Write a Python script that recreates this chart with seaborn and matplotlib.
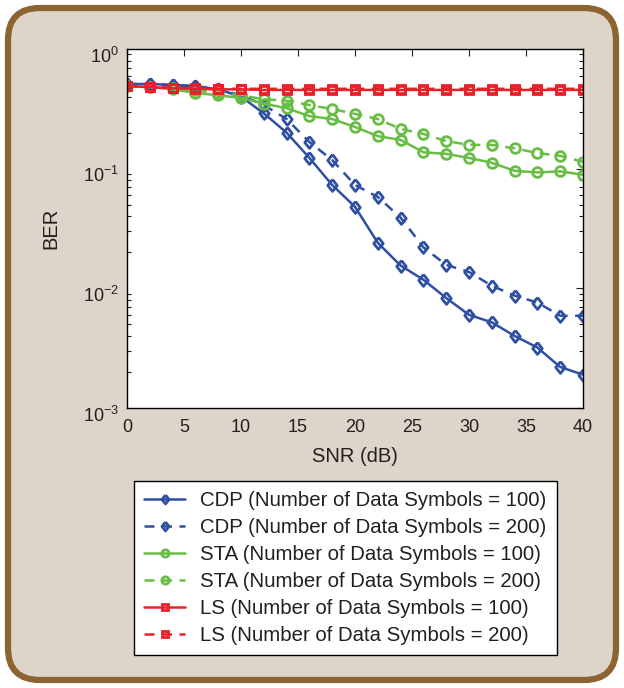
import numpy as np
import pandas as pd
import matplotlib
matplotlib.use('Agg')
import matplotlib.pyplot as plt
import seaborn as sns
from matplotlib.patches import FancyBboxPatch
from matplotlib.transforms import ScaledTranslation

# Data (BER vs SNR)
snr = [0, 2, 4, 6, 8, 10, 12, 14, 16, 18, 20, 22, 24, 26, 28, 30, 32, 34, 36, 38, 40]

cdp_100 = [0.51, 0.51, 0.50, 0.49, 0.46, 0.40, 0.29, 0.20, 0.123, 0.073, 0.048, 0.024, 0.0155,
           0.0118, 0.0083, 0.0060, 0.0052, 0.0040, 0.0032, 0.0022, 0.0019]
cdp_200 = [0.51, 0.51, 0.50, 0.49, 0.46, 0.41, 0.34, 0.26, 0.167, 0.118, 0.073, 0.058, 0.039,
           0.022, 0.0157, 0.0137, 0.0105, 0.0087, 0.0076, 0.0059, 0.0059]
sta_100 = [0.49, 0.48, 0.46, 0.43, 0.41, 0.39, 0.35, 0.32, 0.275, 0.26, 0.223, 0.187, 0.174,
           0.137, 0.133, 0.123, 0.112, 0.096, 0.093, 0.095, 0.089]
sta_200 = [0.49, 0.48, 0.47, 0.45, 0.43, 0.41, 0.38, 0.37, 0.34, 0.315, 0.287, 0.26, 0.215,
           0.195, 0.17, 0.158, 0.158, 0.148, 0.135, 0.128, 0.114]
ls_100 = [0.49, 0.48, 0.47, 0.465, 0.46, 0.46, 0.455, 0.455, 0.455, 0.455, 0.455, 0.455, 0.455,
          0.455, 0.455, 0.455, 0.455, 0.455, 0.455, 0.455, 0.455]
ls_200 = [0.49, 0.485, 0.475, 0.47, 0.465, 0.465, 0.465, 0.465, 0.465, 0.465, 0.465, 0.465, 0.465,
          0.465, 0.465, 0.465, 0.465, 0.465, 0.465, 0.465, 0.465]

labels = ['CDP (Number of Data Symbols = 100)', 'CDP (Number of Data Symbols = 200)',
          'STA (Number of Data Symbols = 100)', 'STA (Number of Data Symbols = 200)',
          'LS (Number of Data Symbols = 100)', 'LS (Number of Data Symbols = 200)']

sns.set_style('white')
plt.rcParams['font.family'] = ['Liberation Sans', 'DejaVu Sans']
plt.rcParams['mathtext.fontset'] = 'custom'
plt.rcParams['mathtext.rm'] = 'Liberation Sans'
plt.rcParams['axes.unicode_minus'] = True
ink = '#231f20'
plt.rcParams.update({'text.color': ink, 'axes.labelcolor': ink,
                     'xtick.color': ink, 'ytick.color': ink})

blue = '#2f4fa2'
green = '#68bd45'
red = '#e8202a'

diamond = [(0, 1), (0.8, 0), (0, -1), (-0.8, 0), (0, 1)]

fig = plt.figure(figsize=(6.24, 6.88), dpi=100)
fig.patch.set_facecolor('white')

# rounded beige panel with brown border
panel = FancyBboxPatch((0.08, 0.08), 6.24 - 0.16, 6.88 - 0.16,
                       boxstyle='round,pad=0,rounding_size=0.32',
                       transform=fig.dpi_scale_trans, facecolor='#ddd5c9',
                       edgecolor='#8b6432', linewidth=4.5, zorder=-5)
fig.patches.append(panel)

ax = fig.add_axes([127 / 624, 1 - 408 / 688, (583 - 127) / 624, (408 - 49) / 688])
ax.set_zorder(1)
ax.set_facecolor('white')

series = [(cdp_100, blue, '-', diamond, 8.5), (cdp_200, blue, '--', diamond, 8.5),
          (sta_100, green, '-', 'o', 7), (sta_200, green, '--', 'o', 7),
          (ls_100, red, '-', 's', 6), (ls_200, red, '--', 's', 6)]

for (vals, col, lsty, mk, ms), lab in zip(series, labels):
    df = pd.DataFrame({'SNR': snr, 'BER': vals})
    sns.lineplot(data=df, x='SNR', y='BER', ax=ax, color=col, linestyle=lsty,
                 marker=mk, markersize=ms, markerfacecolor='none', markeredgecolor=col,
                 markeredgewidth=2, linewidth=1.8, label=lab, legend=False)

for ln in ax.get_lines():
    if ln.get_linestyle() == '--':
        ln.set_dashes((4, 3))

ax.set_yscale('log')
ax.set_xlim(0, 40)
ax.set_ylim(1e-3, 1)
ax.set_xticks([0, 5, 10, 15, 20, 25, 30, 35, 40])
ax.set_xlabel('SNR (dB)', fontsize=14.5, labelpad=8)
ax.set_ylabel('BER', fontsize=14.5, labelpad=16)
ax.tick_params(axis='both', which='both', direction='in', top=True, right=True,
               labelsize=13)
ax.tick_params(axis='x', pad=8)
ax.tick_params(axis='y', pad=6)
ax.tick_params(which='major', length=5, width=0.8)
ax.tick_params(which='minor', length=3, width=0.8)
ax.tick_params(axis='y', which='minor', left=True, right=True)
ax.yaxis.set_minor_locator(matplotlib.ticker.LogLocator(base=10, subs=np.arange(2, 10)))
ax.yaxis.set_minor_formatter(matplotlib.ticker.NullFormatter())
for sp in ax.spines.values():
    sp.set_color('black')
    sp.set_linewidth(1.0)

# MATLAB puts the "10" on the tick, exponent above it
for t in ax.get_yticklabels():
    t.set_transform(t.get_transform() + ScaledTranslation(0, -4 / 72, fig.dpi_scale_trans))

handles, labs = ax.get_legend_handles_labels()
leg = fig.legend(handles, labs, loc='upper left',
                 bbox_to_anchor=(134 / 624, 1 - 481 / 688), borderaxespad=0,
                 fontsize=14.7, frameon=True, fancybox=False, edgecolor='black',
                 framealpha=1, handlelength=2.0, handletextpad=0.75,
                 labelspacing=0.39, borderpad=0.5, markerscale=0.75)
leg.get_frame().set_linewidth(1.0)

fig.savefig('out.png', dpi=100, facecolor=fig.get_facecolor())
